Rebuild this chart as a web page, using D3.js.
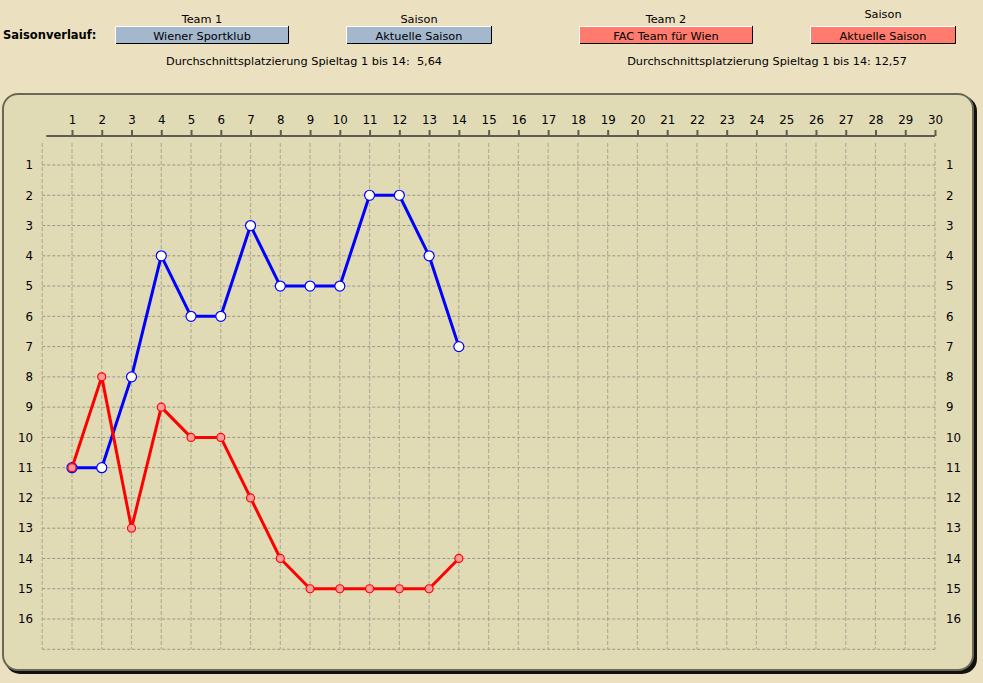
<!DOCTYPE html>
<html><head><meta charset="utf-8">
<script src="https://cdn.jsdelivr.net/npm/d3@7"></script>
<style>
html,body{margin:0;padding:0;background:#ebe1c0;}
svg{display:block;font-family:"DejaVu Sans",Verdana,sans-serif;}
</style></head>
<body>
<svg id="c" width="983" height="683"></svg>
<script>
const matchdays = d3.range(1, 31);
const ranks = d3.range(1, 17);
const team1Name = "Wiener Sportklub";
const team2Name = "FAC Team für Wien";
const seasonLabel = "Aktuelle Saison";
const team1Ranks = [11, 11, 8, 4, 6, 6, 3, 5, 5, 5, 2, 2, 4, 7];
const team2Ranks = [11, 8, 13, 9, 10, 10, 12, 14, 15, 15, 15, 15, 15, 14];
const avgLabel1 = "Durchschnittsplatzierung Spieltag 1 bis 14:  5,64";
const avgLabel2 = "Durchschnittsplatzierung Spieltag 1 bis 14: 12,57";

const FS = 11.3;
const svg = d3.select("#c");
const W = 983, H = 683;
svg.append("rect").attr("width", W).attr("height", H).attr("fill", "#ebe1c0");

// Header
const hdr = svg.append("g").attr("font-size", FS).attr("fill", "#000");
hdr.append("text").attr("x", 3).attr("y", 39).attr("font-weight", "bold").attr("font-size", 11.5).text("Saisonverlauf:");
function box(x, y, w, h, fill, label, title, ty) {
  hdr.append("text").attr("x", x + w / 2).attr("y", ty).attr("text-anchor", "middle").text(title);
  hdr.append("rect").attr("x", x).attr("y", y).attr("width", w).attr("height", h).attr("fill", fill);
  hdr.append("path").attr("d", `M${x + 0.5},${y + h}V${y + 0.5}H${x + w}`).attr("stroke", "#fff").attr("fill", "none");
  hdr.append("path").attr("d", `M${x + 1},${y + h - 0.5}H${x + w - 0.5}V${y}`).attr("stroke", "#000").attr("fill", "none");
  hdr.append("text").attr("x", x + w / 2).attr("y", y + 14).attr("text-anchor", "middle").text(label);
}
box(115, 26, 174, 18, "#a3b7cd", team1Name, "Team 1", 23);
box(346, 26, 146, 18, "#a3b7cd", seasonLabel, "Saison", 23);
box(579, 26, 174, 18, "#ff7b6d", team2Name, "Team 2", 23);
box(810, 26, 146, 18, "#ff7b6d", seasonLabel, "Saison", 18);
hdr.append("text").attr("x", 304).attr("y", 65).attr("text-anchor", "middle").style("white-space", "pre").text(avgLabel1);
hdr.append("text").attr("x", 767).attr("y", 65).attr("text-anchor", "middle").style("white-space", "pre").text(avgLabel2);

// Panel
svg.append("rect").attr("x", 5).attr("y", 96).attr("width", 972).attr("height", 578).attr("rx", 15).attr("fill", "#111");
svg.append("rect").attr("x", 3).attr("y", 94).attr("width", 970).attr("height", 576).attr("rx", 15)
  .attr("fill", "#e0dbb5").attr("stroke", "#6b6856").attr("stroke-width", 2);

// Scales
const x = d3.scaleLinear().domain([1, 30]).range([72, 935]);
const y = d3.scaleLinear().domain([1, 16]).range([165, 619]);
const x0 = x(0), y17 = y(17);

// Grid
const grid = svg.append("g");
grid.selectAll("line.v").data([0].concat(matchdays)).join("line")
  .attr("x1", d => x(d)).attr("x2", d => x(d)).attr("y1", 143).attr("y2", y17)
  .attr("stroke", "#b3ae98").attr("stroke-width", 1.2).attr("stroke-dasharray", "4,2");
grid.selectAll("line.h").data(ranks.concat([17])).join("line")
  .attr("x1", x0).attr("x2", x(30)).attr("y1", d => y(d)).attr("y2", d => y(d))
  .attr("stroke", "#99968a").attr("stroke-width", 1).attr("stroke-dasharray", "3,2");

// Top axis
const ax = svg.append("g").attr("transform", "translate(0,136)")
  .call(d3.axisTop(x).tickValues(matchdays).tickSize(6).tickPadding(6).tickFormat(d3.format("d")));
ax.select(".domain").attr("d", `M${x0 + 4},0H${x(30)}`).attr("stroke", "#5e5c52").attr("stroke-width", 2);
ax.selectAll(".tick line").attr("stroke", "#5e5c52").attr("stroke-width", 2).attr("y1", 0).attr("y2", -6);

// Y axes
const yl = svg.append("g").attr("transform", "translate(33,0)")
  .call(d3.axisLeft(y).tickValues(ranks).tickSize(0).tickPadding(0).tickFormat(d3.format("d")));
yl.select(".domain").remove();
const yr = svg.append("g").attr("transform", "translate(946,0)")
  .call(d3.axisRight(y).tickValues(ranks).tickSize(0).tickPadding(0).tickFormat(d3.format("d")));
yr.select(".domain").remove();
svg.selectAll(".tick text").attr("font-size", FS + 0.5).attr("fill", "#000").attr("font-family", "'DejaVu Sans',Verdana,sans-serif");

// Lines
const line = d3.line().x((d, i) => x(i + 1)).y(d => y(d));
function series(data, color, mfill, r) {
  svg.append("path").datum(data).attr("d", line).attr("fill", "none")
    .attr("stroke", color).attr("stroke-width", 3).attr("stroke-linejoin", "round");
  svg.append("g").selectAll("circle").data(data).join("circle")
    .attr("cx", (d, i) => x(i + 1)).attr("cy", d => y(d)).attr("r", r)
    .attr("fill", mfill).attr("stroke", color).attr("stroke-width", 1.2);
}
series(team1Ranks, "#0000ff", "#ffffff", 5);
series(team2Ranks, "#ff0000", "#ff9a9a", 4);
</script>
</body></html>
